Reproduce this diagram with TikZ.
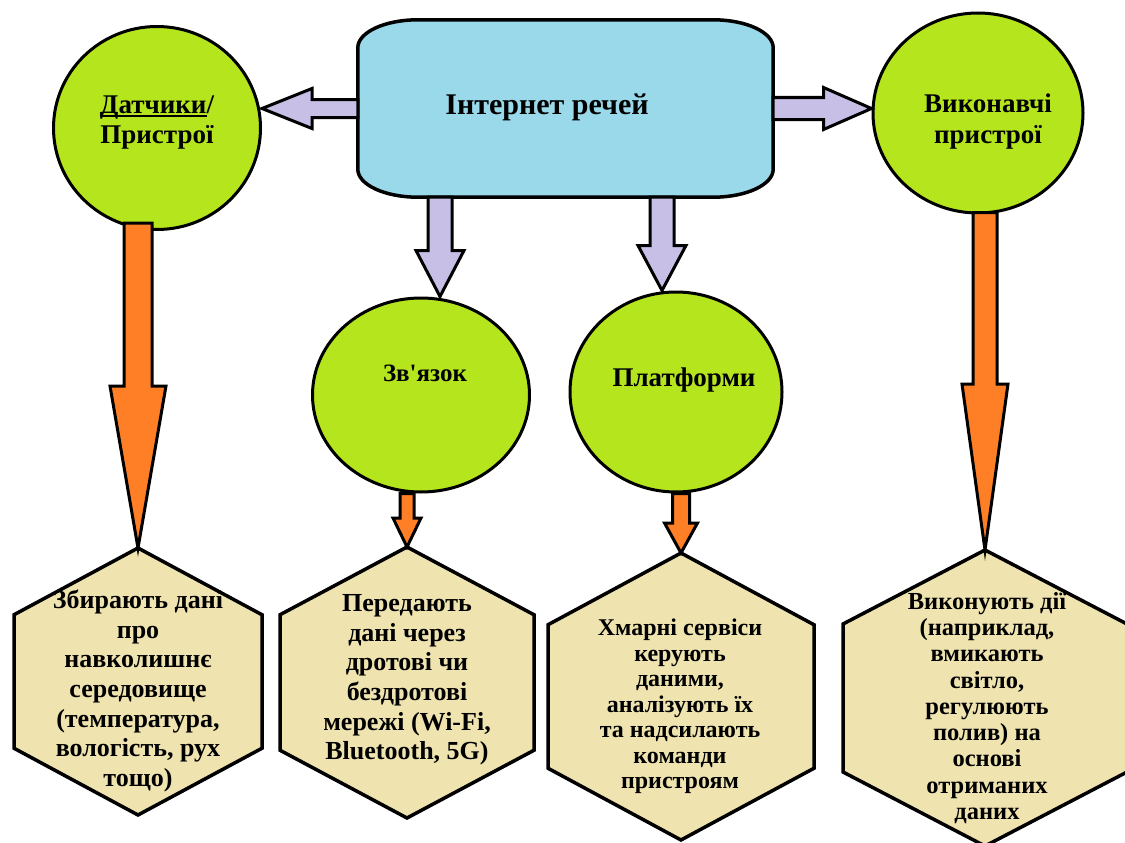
\documentclass[tikz,border=0pt]{standalone}
\usepackage{fontspec}
\newfontfamily\ser{Liberation Serif}
\usetikzlibrary{calc,shapes.geometric}
\definecolor{cgreen}{HTML}{B5E61D}
\definecolor{cblue}{HTML}{99D9EA}
\definecolor{clav}{HTML}{C8BFE7}
\definecolor{corange}{HTML}{FF7F27}
\definecolor{cbeige}{HTML}{EFE4B0}
\tikzset{
  circ/.style={ellipse, draw=black, line width=3pt, fill=cgreen, inner sep=0pt},
  boxs/.style={draw=black, line width=3.5pt, fill=cblue},
  hexs/.style={draw=black, line width=3.5pt, fill=cbeige, line join=miter},
  larr/.style={draw=black, line width=3pt, fill=clav, line join=miter},
  oarr/.style={draw=black, line width=3pt, fill=corange, line join=miter, miter limit=20},
  txt/.style={align=center, inner sep=0pt, text=black},
}
\newcommand\blockarr[6]{%
  \coordinate (ba-s) at (#2);
  \coordinate (ba-t) at (#3);
  \coordinate (ba-h) at ($(ba-t)!#6!(ba-s)$);
  \draw[#1] ($(ba-s)!#4!90:(ba-t)$) -- ($(ba-h)!#4!90:(ba-t)$) -- ($(ba-h)!#5!90:(ba-t)$) -- (ba-t) -- ($(ba-h)!#5!-90:(ba-t)$) -- ($(ba-h)!#4!-90:(ba-t)$) -- ($(ba-s)!#4!-90:(ba-t)$) -- cycle;
}
\newcommand\hexa[5]{%
  \coordinate (#1) at (#2,#3);
  \draw[hexs] ($(#1)+(0,-#5)$) coordinate (#1t) -- ++(#4,#5/2) -- ++(0,#5) -- ++(-#4,#5/2) -- ++(-#4,-#5/2) -- ++(0,-#5) -- cycle;
}
\newcommand\myul[1]{\setbox0\hbox{#1}\rlap{\rule[-3.5pt]{\wd0}{1.6pt}}\box0}
\begin{document}
\begin{tikzpicture}[x=1pt,y=-1pt, font=\ser\bfseries]
\useasboundingbox[fill=white] (0,0) rectangle (1125,843);
% central box
\node[minimum width=415pt, minimum height=177pt, inner sep=0pt] (iot) at (565.5,108.5) {};
\draw[boxs] ($(iot.north west)+(60,0)$) -- ($(iot.north east)+(-60,0)$)
  arc[start angle=-90,end angle=0,x radius=60,y radius=28]
  -- ($(iot.south east)+(0,-28)$)
  arc[start angle=0,end angle=90,x radius=60,y radius=28]
  -- ($(iot.south west)+(60,0)$)
  arc[start angle=90,end angle=180,x radius=60,y radius=28]
  -- ($(iot.north west)+(0,28)$)
  arc[start angle=180,end angle=270,x radius=60,y radius=28] -- cycle;
\node[txt, font=\ser\bfseries\fontsize{30}{33}\selectfont] (iot-t) at (547,107) {Інтернет речей};
% circles
\node[circ, minimum width=207pt, minimum height=203pt] (sens) at (157,128) {};
\node[circ, minimum width=210pt, minimum height=200pt] (act) at (978,113) {};
\node[circ, minimum width=217pt, minimum height=194pt] (conn) at (421,395) {};
\node[circ, minimum width=212pt, minimum height=200pt] (plat) at (676,392) {};
\node[txt, font=\ser\bfseries\fontsize{27}{30}\selectfont] (sens-t) at (157,122) {\myul{Датчики}/\\Пристрої};
\node[txt, font=\ser\bfseries\fontsize{27}{31}\selectfont] (act-t) at (988,122) {Виконавчі\\пристрої};
\node[txt, font=\ser\bfseries\fontsize{25}{28}\selectfont] (conn-t) at (425,373) {Зв'язок};
\node[txt, font=\ser\bfseries\fontsize{27}{30}\selectfont] (plat-t) at (684,380) {Платформи};
% hexagons
\hexa{h1}{138}{681.5}{124}{133.5}
\hexa{h2}{407}{682.5}{127}{135.5}
\hexa{h3}{681}{696.5}{133}{143.5}
\hexa{h4}{985}{698}{142}{148}
\node[txt, font=\ser\bfseries\fontsize{26}{29.6}\selectfont] (h1-t) at (138,691) {Збирають дані\\про\\навколишнє\\середовище\\(температура,\\вологість, рух\\тощо)};
\node[txt, font=\ser\bfseries\fontsize{26}{29.6}\selectfont] (h2-t) at (407,680) {Передають\\дані через\\дротові чи\\бездротові\\мережі (Wi-Fi,\\Bluetooth, 5G)};
\node[txt, font=\ser\bfseries\fontsize{24}{25.5}\selectfont] (h3-t) at (680,706.5) {Хмарні сервіси\\керують\\даними,\\аналізують їх\\та надсилають\\команди\\пристроям};
\node[txt, font=\ser\bfseries\fontsize{24.5}{26.25}\selectfont] (h4-t) at (987,708) {Виконують дії\\(наприклад,\\вмикають\\світло,\\регулюють\\полив) на\\основі\\отриманих\\даних};
% lavender arrows
\coordinate (d1) at (440,0);
\coordinate (d2) at (662,0);
\blockarr{larr}{iot.west}{iot.west -| sens.east}{9pt}{20pt}{50pt}
\blockarr{larr}{iot.east}{iot.east -| act.west}{11pt}{21pt}{48pt}
\blockarr{larr}{d1 |- iot.south}{d1 |- conn.north}{12pt}{24pt}{46pt}
\blockarr{larr}{d2 |- iot.south}{d2 |- plat.north}{12pt}{24pt}{45pt}
% orange arrows
\blockarr{oarr}{$(h1t |- sens.south)+(0,-8)$}{h1t}{14pt}{28pt}{162pt}
\blockarr{oarr}{h2t |- conn.south}{h2t}{7pt}{14pt}{29pt}
\blockarr{oarr}{h3t |- plat.south}{h3t}{8.5pt}{16.5pt}{30pt}
\blockarr{oarr}{$(h4t |- act.south)+(0,-2)$}{h4t}{12pt}{23pt}{166pt}
\end{tikzpicture}
\end{document}
